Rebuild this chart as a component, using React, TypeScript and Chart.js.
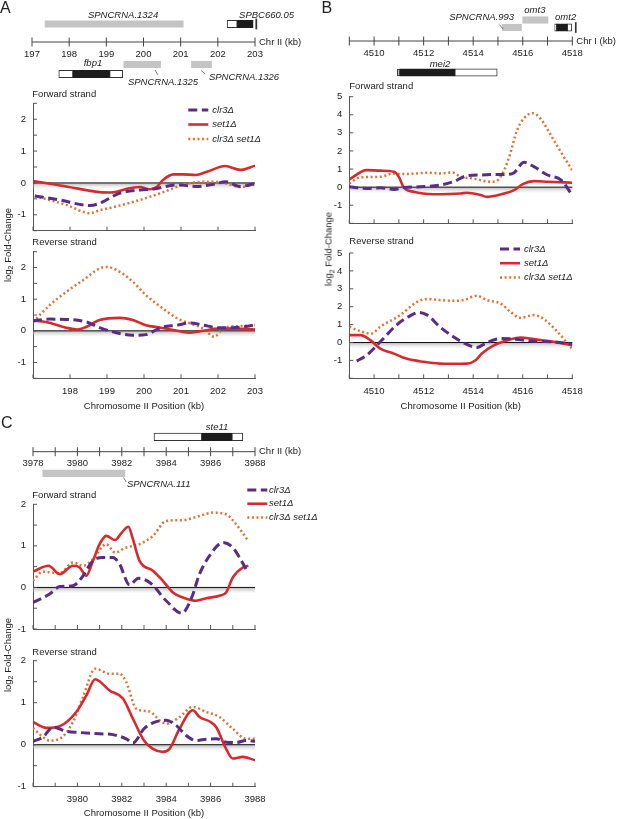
import React, { useEffect, useRef } from 'react';
import { Chart, registerables } from 'chart.js';
Chart.register(...registerables);

const FONT = '"Liberation Sans", Arial, Helvetica, sans-serif';
const TEXT = '#222222';
const AXIS = '#555555';

// ---------------- Series ----------------
const seriesNames = ['clr3\u0394', 'set1\u0394', 'clr3\u0394 set1\u0394'];

// Panel A – forward strand
const aFwdClr3X = [197.05, 197.7, 198.55, 198.8, 199.35, 199.9, 200.25, 200.9, 201.4, 201.9, 202.2, 202.6, 203.0];
const aFwdClr3Y = [-0.41, -0.53, -0.71, -0.64, -0.32, -0.22, -0.19, -0.06, -0.11, -0.04, 0.04, -0.11, -0.02];
const aFwdSet1X = [197.0, 197.9, 198.8, 199.1, 199.6, 199.9, 200.15, 200.35, 200.5, 200.8, 201.05, 201.4, 201.7, 202.2, 202.6, 203.0];
const aFwdSet1Y = [0.06, -0.11, -0.29, -0.3, -0.17, -0.13, -0.2, -0.12, 0.08, 0.27, 0.27, 0.25, 0.35, 0.53, 0.41, 0.54];
const aFwdDblX = [197.05, 197.9, 198.55, 198.8, 199.25, 199.9, 200.45, 201.05, 201.4, 201.9, 202.2, 202.6, 203.0];
const aFwdDblY = [-0.41, -0.69, -0.95, -0.86, -0.74, -0.53, -0.32, -0.06, 0.02, 0.04, -0.01, -0.13, -0.04];

// Panel A – reverse strand
const aRevClr3X = [197.0, 197.45, 197.9, 198.45, 198.8, 199.25, 199.7, 200.05, 200.45, 200.9, 201.25, 201.6, 202.0, 202.4, 203.0];
const aRevClr3Y = [0.32, 0.37, 0.36, 0.28, 0.1, -0.06, -0.14, -0.12, 0.1, 0.18, 0.25, 0.18, 0.1, 0.1, 0.18];
const aRevSet1X = [197.0, 197.35, 197.9, 198.2, 198.45, 198.8, 199.35, 199.7, 200.05, 200.45, 200.9, 201.25, 201.6, 202.0, 202.4, 203.0];
const aRevSet1Y = [0.32, 0.28, 0.1, 0.04, 0.13, 0.34, 0.41, 0.34, 0.18, 0.1, 0.0, -0.06, 0.0, 0.07, 0.07, 0.04];
const aRevDblX = [197.0, 197.45, 197.9, 198.35, 198.8, 199.0, 199.35, 199.7, 200.05, 200.45, 200.9, 201.25, 201.6, 201.9, 202.1, 202.3, 202.6, 203.0];
const aRevDblY = [0.28, 0.81, 1.23, 1.6, 1.97, 2.02, 1.86, 1.55, 1.13, 0.76, 0.39, 0.23, 0.07, -0.19, 0.02, 0.13, 0.15, 0.18];

// Panel B – forward strand
const bFwdClr3X = [4509.0, 4509.7, 4510.25, 4510.8, 4511.2, 4511.85, 4512.65, 4513.2, 4513.75, 4514.3, 4514.85, 4515.35, 4515.65, 4516.05, 4516.45, 4517.0, 4517.55, 4517.95];
const bFwdClr3Y = [0.02, -0.07, -0.04, -0.13, -0.02, 0.02, 0.11, 0.3, 0.63, 0.67, 0.7, 0.7, 0.8, 1.37, 1.13, 0.67, 0.39, -0.35];
const bFwdSet1X = [4509.0, 4509.7, 4510.25, 4510.8, 4511.0, 4511.2, 4511.6, 4512.4, 4513.5, 4513.75, 4514.3, 4514.55, 4515.1, 4515.65, 4516.0, 4516.45, 4517.0, 4518.0];
const bFwdSet1Y = [0.43, 0.94, 0.91, 0.85, 0.57, -0.02, -0.26, -0.39, -0.35, -0.31, -0.44, -0.54, -0.41, -0.17, 0.17, 0.33, 0.3, 0.24];
const bFwdDblX = [4509.0, 4509.45, 4510.25, 4510.8, 4511.05, 4511.6, 4512.15, 4512.65, 4513.15, 4513.5, 4514.0, 4514.7, 4514.95, 4515.25, 4515.5, 4515.75, 4516.05, 4516.4, 4516.7, 4517.25, 4517.65, 4518.0];
const bFwdDblY = [0.2, 0.54, 0.57, 0.76, 0.72, 0.74, 0.8, 0.76, 0.81, 0.57, 0.48, 0.3, 0.35, 0.94, 1.87, 3.07, 3.81, 4.09, 3.81, 2.6, 1.69, 0.94];

// Panel B – reverse strand
const bRevClr3X = [4509.3, 4509.7, 4510.25, 4510.9, 4511.45, 4511.8, 4512.15, 4512.65, 4513.2, 4513.75, 4514.15, 4514.55, 4515.1, 4515.65, 4516.45, 4517.25, 4518.0];
const bRevClr3Y = [-1.04, -0.71, 0.04, 0.97, 1.49, 1.68, 1.53, 0.88, 0.32, -0.11, -0.28, 0.0, 0.22, 0.19, 0.07, 0.04, -0.09];
const bRevSet1X = [4509.0, 4509.45, 4509.85, 4510.25, 4510.8, 4511.3, 4512.0, 4512.65, 4513.2, 4513.75, 4514.1, 4514.35, 4514.85, 4515.4, 4515.9, 4516.45, 4517.25, 4518.0];
const bRevSet1Y = [0.41, 0.41, 0.13, -0.34, -0.62, -0.9, -1.08, -1.18, -1.19, -1.18, -0.99, -0.62, -0.15, 0.13, 0.28, 0.19, 0.04, -0.15];
const bRevDblX = [4509.0, 4509.45, 4509.9, 4510.25, 4511.05, 4511.75, 4512.15, 4512.65, 4513.2, 4513.6, 4514.15, 4514.55, 4515.1, 4515.5, 4515.9, 4516.45, 4516.85, 4517.4, 4518.0];
const bRevDblY = [0.88, 0.63, 0.5, 0.88, 1.53, 2.28, 2.43, 2.37, 2.33, 2.37, 2.61, 2.37, 2.18, 1.72, 1.38, 1.53, 1.31, 0.6, -0.37];

// Panel C – forward strand
const cFwdClr3X = [3978.0, 3978.75, 3979.2, 3979.8, 3980.2, 3980.7, 3981.15, 3981.6, 3981.9, 3982.35, 3982.75, 3983.3, 3984.0, 3984.7, 3985.15, 3985.5, 3986.0, 3986.55, 3987.0, 3987.3, 3987.6];
const cFwdClr3Y = [-0.36, -0.16, 0.02, 0.04, 0.24, 0.64, 0.72, 0.72, 0.56, 0.06, 0.22, 0.1, -0.32, -0.62, -0.24, 0.32, 0.8, 1.08, 0.96, 0.72, 0.44];
const cFwdSet1X = [3978.0, 3978.7, 3979.2, 3979.8, 3980.1, 3980.4, 3980.7, 3981.0, 3981.3, 3981.7, 3982.0, 3982.3, 3982.5, 3982.8, 3983.4, 3983.85, 3984.3, 3984.75, 3985.35, 3985.8, 3986.4, 3986.7, 3987.0, 3987.45, 3987.7];
const cFwdSet1Y = [0.38, 0.52, 0.32, 0.52, 0.48, 0.28, 0.64, 1.04, 1.24, 1.14, 1.32, 1.46, 1.16, 0.64, 0.4, 0.16, -0.12, -0.24, -0.32, -0.26, -0.2, -0.12, 0.24, 0.48, 0.52];
const cFwdDblX = [3978.0, 3978.45, 3979.2, 3979.8, 3980.25, 3980.7, 3981.3, 3981.7, 3982.2, 3982.8, 3983.4, 3984.0, 3984.75, 3985.5, 3986.1, 3986.7, 3987.15, 3987.7];
const cFwdDblY = [0.16, 0.38, 0.34, 0.6, 0.52, 0.68, 1.04, 0.84, 0.96, 1.04, 1.24, 1.6, 1.62, 1.72, 1.8, 1.76, 1.52, 1.12];

// Panel C – reverse strand
const cRevClr3X = [3978.0, 3978.45, 3978.9, 3979.5, 3980.1, 3981.0, 3981.6, 3982.2, 3982.5, 3983.0, 3983.4, 3984.0, 3984.45, 3984.9, 3985.35, 3985.8, 3986.25, 3986.7, 3987.15, 3987.6, 3988.0];
const cRevClr3Y = [0.08, 0.18, 0.42, 0.32, 0.29, 0.26, 0.24, 0.14, 0.04, 0.38, 0.52, 0.58, 0.46, 0.22, 0.1, 0.13, 0.14, 0.06, 0.05, 0.1, 0.08];
const cRevSet1X = [3978.0, 3978.6, 3979.2, 3979.95, 3980.4, 3980.8, 3981.0, 3981.45, 3982.05, 3982.5, 3983.0, 3983.4, 3983.85, 3984.15, 3984.6, 3985.2, 3985.5, 3986.0, 3986.25, 3986.7, 3987.0, 3987.45, 3988.0];
const cRevSet1Y = [0.54, 0.4, 0.44, 0.78, 1.17, 1.56, 1.51, 1.29, 1.1, 0.62, 0.1, -0.1, -0.17, -0.1, 0.38, 0.82, 0.66, 0.54, 0.42, -0.1, -0.33, -0.29, -0.37];
const cRevDblX = [3978.0, 3978.45, 3978.75, 3979.2, 3979.8, 3980.25, 3980.8, 3981.45, 3981.9, 3982.2, 3982.65, 3983.25, 3983.7, 3984.0, 3984.6, 3985.2, 3985.8, 3986.4, 3987.0, 3987.6, 3988.0];
const cRevDblY = [0.4, 0.18, 0.1, 0.14, 0.54, 1.13, 1.81, 1.69, 1.69, 1.49, 0.86, 0.79, 0.58, 0.5, 0.66, 0.9, 0.78, 0.66, 0.38, 0.14, 0.14];

// ---------------- Axis ticks ----------------
const aYLabels = [-1, 0, 1, 2];
const bYLabels = [-1, 0, 1, 2, 3, 4, 5];
const cYLabels = [-1, 0, 1, 2];
const aXLabels = [198, 199, 200, 201, 202, 203];
const bXLabels = [4510, 4512, 4514, 4516, 4518];
const cXLabels = [3980, 3982, 3984, 3986, 3988];
const xTitle = 'Chromosome II Position (kb)';

// ---------------- Gene tracks ----------------
const aTrackTicks = [197, 198, 199, 200, 201, 202, 203];
const aTrackLabels = [197, 198, 199, 200, 201, 202, 203];
const aFeatStart = [197.35, 202.25, 202.52, 203.02, 197.72, 198.1, 199.09, 199.47, 201.29];
const aFeatEnd = [201.07, 202.52, 202.95, 203.05, 198.1, 199.09, 199.44, 200.46, 201.83];
const aFeatKind = ['nc', 'utr', 'cds', 'end', 'utr', 'cds', 'utr', 'nc', 'nc'];
const aFeatRow = ['up', 'up', 'up', 'up', 'low2', 'low2', 'low2', 'low1', 'low1'];
const aGeneNames = ['SPNCRNA.1324', 'SPBC660.05', 'fbp1', 'SPNCRNA.1325', 'SPNCRNA.1326'];
const aGeneLabelAt = [199.45, 203.31, 198.64, 199.58, 201.76];

const bTrackTicks = [4509, 4510, 4511, 4512, 4513, 4514, 4515, 4516, 4517, 4518];
const bTrackLabels = [4510, 4512, 4514, 4516, 4518];
const bFeatStart = [4515.17, 4516.0, 4517.29, 4517.37, 4517.8, 4518.12, 4510.94, 4511.04, 4513.26];
const bFeatEnd = [4515.95, 4517.02, 4517.37, 4517.8, 4517.98, 4518.16, 4511.04, 4513.26, 4514.97];
const bFeatKind = ['nc', 'nc', 'utr', 'cds', 'utr', 'end', 'gutr', 'cds', 'utr'];
const bFeatRow = ['mid', 'up', 'mid', 'mid', 'mid', 'mid', 'low', 'low', 'low'];
const bGeneNames = ['SPNCRNA.993', 'omt3', 'omt2', 'mei2'];
const bGeneLabelAt = [4515.65, 4516.49, 4517.73, 4512.66];

const cTrackTicks = [3978, 3979, 3980, 3981, 3982, 3983, 3984, 3985, 3986, 3987, 3988];
const cTrackLabels = [3978, 3980, 3982, 3984, 3986, 3988];
const cFeatStart = [3983.45, 3985.6, 3986.96, 3978.44];
const cFeatEnd = [3985.6, 3986.96, 3987.45, 3982.14];
const cFeatKind = ['utr', 'cds', 'utr', 'nc'];
const cFeatRow = ['up', 'up', 'up', 'low'];
const cGeneNames = ['ste11', 'SPNCRNA.111'];
const cGeneLabelAt = [3986.29, 3982.23];

// ---------------- Styles ----------------
const seriesStyles = [
  { color: '#5a2c84', width: 3, dash: [9, 4.5] },
  { color: '#d82a2c', width: 2.6, dash: [] as number[] },
  { color: '#dd7432', width: 2.5, dash: [2, 2.6] },
];

const KIND_STYLE: Record<string, { bg: string; border: string; bw: number; th: number }> = {
  nc: { bg: '#c4c4c4', border: '#c4c4c4', bw: 0, th: 6.5 },
  gutr: { bg: '#bdbdbd', border: '#333333', bw: 1, th: 7 },
  utr: { bg: '#ffffff', border: '#333333', bw: 1, th: 7.5 },
  cds: { bg: '#1c1c1c', border: '#1c1c1c', bw: 1, th: 7.5 },
  end: { bg: '#333333', border: '#333333', bw: 0, th: 10 },
};

function font(size: number, style = 'normal') {
  return `${style} ${size}px ${FONT}`;
}

// ---------------- Plot charts ----------------
const plotDeco = (cfg: any) => ({
  id: 'plotDeco',
  beforeDatasetsDraw(chart: any) {
    const { ctx, chartArea: ca } = chart;
    const xs = chart.scales.x;
    const ys = chart.scales.y;
    const y0 = ys.getPixelForValue(0);
    ctx.save();
    const g = ctx.createLinearGradient(0, y0, 0, y0 + 6);
    g.addColorStop(0, 'rgba(150,150,150,0.7)');
    g.addColorStop(1, 'rgba(210,210,210,0)');
    ctx.fillStyle = g;
    ctx.fillRect(ca.left, y0, ca.right - ca.left, 6);
    ctx.strokeStyle = '#111';
    ctx.lineWidth = 1;
    ctx.beginPath();
    ctx.moveTo(ca.left, y0);
    ctx.lineTo(ca.right, y0);
    ctx.stroke();
    ctx.strokeStyle = AXIS;
    ctx.beginPath();
    for (const t of ys.ticks) {
      const py = ys.getPixelForValue(t.value);
      ctx.moveTo(ca.left, py);
      ctx.lineTo(ca.left + 4, py);
    }
    for (const t of xs.ticks) {
      const px = xs.getPixelForValue(t.value);
      ctx.moveTo(px, ca.bottom);
      ctx.lineTo(px, ca.bottom - 4);
    }
    ctx.stroke();
    ctx.restore();
  },
  afterDraw(chart: any) {
    const { ctx } = chart;
    const [cl, ct] = cfg.canvas;
    ctx.save();
    ctx.fillStyle = TEXT;
    ctx.font = font(9.5);
    ctx.textAlign = 'left';
    ctx.textBaseline = 'middle';
    ctx.fillText(cfg.strand, cfg.strandPos[0] - cl, cfg.strandPos[1] - ct);
    if (cfg.legend) {
      const [lx, ly, tx, gap] = cfg.legend;
      chart.data.datasets.forEach((ds: any, i: number) => {
        const y = ly + i * gap - ct;
        ctx.strokeStyle = ds.borderColor;
        ctx.lineWidth = ds.borderWidth;
        ctx.setLineDash(ds.borderDash || []);
        ctx.beginPath();
        ctx.moveTo(lx - cl, y);
        ctx.lineTo(lx - cl + 20, y);
        ctx.stroke();
        ctx.setLineDash([]);
        ctx.fillStyle = TEXT;
        ctx.font = font(9.5, 'italic');
        ctx.fillText(ds.label, tx - cl, y);
      });
    }
    ctx.restore();
  },
});

function PlotChart({ cfg }: { cfg: any }) {
  const ref = useRef<HTMLCanvasElement>(null);
  const [cl, ct, cw, chh] = cfg.canvas;
  useEffect(() => {
    const [al, at, ar, ab] = cfg.area;
    const yw = al - cl;
    const padTop = at - ct;
    const padRight = cl + cw - ar;
    const xh = ct + chh - ab;
    const chart = new Chart(ref.current as HTMLCanvasElement, {
      type: 'line',
      data: {
        datasets: cfg.series.map((s: any, i: number) => ({
          label: seriesNames[i],
          data: s[0].map((x: number, j: number) => ({ x, y: s[1][j] })),
          borderColor: seriesStyles[i].color,
          borderWidth: seriesStyles[i].width,
          borderDash: seriesStyles[i].dash,
          pointRadius: 0,
          tension: 0.4,
          cubicInterpolationMode: 'monotone',
          fill: false,
        })),
      },
      options: {
        animation: false,
        responsive: false,
        events: [],
        layout: { padding: { left: 0, top: padTop, right: padRight, bottom: 0 }, autoPadding: false },
        plugins: { legend: { display: false }, tooltip: { enabled: false }, title: { display: false } },
        scales: {
          x: {
            type: 'linear',
            min: cfg.xMin,
            max: cfg.xMax,
            grid: { display: false, drawTicks: false, tickLength: 0 },
            border: { display: true, color: AXIS, width: 1 },
            ticks: {
              display: !!cfg.xLabels,
              stepSize: 1,
              autoSkip: false,
              maxRotation: 0,
              padding: 7,
              color: TEXT,
              font: { family: FONT, size: 9.5 },
              callback: (v: any) => (cfg.xLabels && cfg.xLabels.includes(Number(v)) ? String(v) : ''),
            },
            title: cfg.xLabels
              ? { display: true, text: xTitle, color: TEXT, font: { family: FONT, size: 9.5 }, padding: { top: 0, bottom: cfg.titlePad } }
              : { display: false },
            afterFit: (s: any) => {
              s.height = xh;
            },
          },
          y: {
            type: 'linear',
            min: cfg.yMin,
            max: cfg.yMax,
            grid: { display: false, drawTicks: false, tickLength: 0 },
            border: { display: true, color: AXIS, width: 1 },
            ticks: {
              stepSize: cfg.yStep,
              autoSkip: false,
              padding: 7,
              color: TEXT,
              font: { family: FONT, size: 9.5 },
              callback: (v: any) => (cfg.yLabels.includes(Number(v)) ? String(v) : ''),
            },
            afterFit: (s: any) => {
              s.width = yw;
            },
          },
        },
      } as any,
      plugins: [plotDeco(cfg)],
    });
    return () => chart.destroy();
  }, []);
  return (
    <canvas
      ref={ref}
      width={cw}
      height={chh}
      style={{ position: 'absolute', left: cl, top: ct, width: cw, height: chh }}
    />
  );
}

// ---------------- Gene track charts ----------------
const trackDeco = (cfg: any) => ({
  id: 'trackDeco',
  afterDatasetsDraw(chart: any) {
    const { ctx } = chart;
    const xs = chart.scales.x;
    const ys = chart.scales.y;
    const ay = ys.getPixelForValue(cfg.axisY);
    const x0 = xs.getPixelForValue(cfg.min);
    const x1 = xs.getPixelForValue(cfg.max);
    ctx.save();
    ctx.strokeStyle = '#444';
    ctx.lineWidth = 1;
    ctx.beginPath();
    ctx.moveTo(x0, ay);
    ctx.lineTo(x1, ay);
    for (const t of cfg.ticks) {
      const px = xs.getPixelForValue(t);
      ctx.moveTo(px, ay - 4.5);
      ctx.lineTo(px, ay + 4.5);
    }
    ctx.stroke();
    ctx.fillStyle = TEXT;
    ctx.font = font(9.5);
    ctx.textBaseline = 'middle';
    ctx.textAlign = 'center';
    for (const t of cfg.tickLabels) {
      ctx.fillText(String(t), xs.getPixelForValue(t), ay + 12);
    }
    ctx.textAlign = 'left';
    ctx.fillText(cfg.chrLabel, x1 + 4, ay);
    ctx.font = font(9.5, 'italic');
    cfg.names.forEach((n: string, i: number) => {
      ctx.textAlign = cfg.nameAlign[i];
      ctx.fillText(n, xs.getPixelForValue(cfg.nameAt[i]), ys.getPixelForValue(cfg.nameY[i]));
    });
    ctx.strokeStyle = '#555';
    ctx.lineWidth = 0.8;
    ctx.beginPath();
    for (const [k1, y1, k2, y2] of cfg.leaders) {
      ctx.moveTo(xs.getPixelForValue(k1), ys.getPixelForValue(y1));
      ctx.lineTo(xs.getPixelForValue(k2), ys.getPixelForValue(y2));
    }
    ctx.stroke();
    ctx.restore();
  },
});

function TrackChart({ cfg }: { cfg: any }) {
  const ref = useRef<HTMLCanvasElement>(null);
  const [cl, ct, cw, chh] = cfg.canvas;
  useEffect(() => {
    const datasets = Object.keys(KIND_STYLE)
      .map((k) => {
        const st = KIND_STYLE[k];
        const idx = cfg.kind.map((kk: string, i: number) => (kk === k ? i : -1)).filter((i: number) => i >= 0);
        return {
          label: k,
          data: idx.map((i: number) => ({ x: [cfg.start[i], cfg.end[i]], y: cfg.rowY[cfg.row[i]] })),
          backgroundColor: st.bg,
          borderColor: st.border,
          borderWidth: st.bw,
          barThickness: st.th,
          grouped: false,
          borderSkipped: false,
          clip: false,
        };
      })
      .filter((d) => d.data.length > 0);
    const chart = new Chart(ref.current as HTMLCanvasElement, {
      type: 'bar',
      data: { datasets },
      options: {
        indexAxis: 'y',
        animation: false,
        responsive: false,
        events: [],
        layout: { padding: { left: cfg.xLeft - cl, right: cl + cw - cfg.xRight, top: 0, bottom: 0 }, autoPadding: false },
        plugins: { legend: { display: false }, tooltip: { enabled: false } },
        scales: {
          x: { type: 'linear', min: cfg.min, max: cfg.max, display: false, beginAtZero: false },
          y: { type: 'linear', min: 0, max: chh, reverse: true, display: false, offset: false },
        },
      } as any,
      plugins: [trackDeco(cfg)],
    });
    return () => chart.destroy();
  }, []);
  return (
    <canvas
      ref={ref}
      width={cw}
      height={chh}
      style={{ position: 'absolute', left: cl, top: ct, width: cw, height: chh }}
    />
  );
}

// ---------------- Layout ----------------
const tracks = [
  {
    key: 'tA',
    canvas: [0, 0, 320, 90],
    xLeft: 32,
    xRight: 255,
    min: 197,
    max: 203,
    axisY: 42,
    ticks: aTrackTicks,
    tickLabels: aTrackLabels,
    chrLabel: 'Chr II (kb)',
    start: aFeatStart,
    end: aFeatEnd,
    kind: aFeatKind,
    row: aFeatRow,
    rowY: { up: 24, low1: 64.5, low2: 74 },
    names: aGeneNames,
    nameAt: aGeneLabelAt,
    nameY: [15, 15, 63.5, 82, 77],
    nameAlign: ['center', 'center', 'center', 'left', 'left'],
    leaders: [
      [200.31, 70, 200.39, 75],
      [201.55, 70.5, 201.66, 74],
    ],
  },
  {
    key: 'tB',
    canvas: [300, 0, 317, 90],
    xLeft: 349.3,
    xRight: 572.3,
    min: 4509,
    max: 4518,
    axisY: 41,
    ticks: bTrackTicks,
    tickLabels: bTrackLabels,
    chrLabel: 'Chr I (kb)',
    start: bFeatStart,
    end: bFeatEnd,
    kind: bFeatKind,
    row: bFeatRow,
    rowY: { up: 20, mid: 27.5, low: 72.5 },
    names: bGeneNames,
    nameAt: bGeneLabelAt,
    nameY: [17.5, 10.5, 17.5, 64],
    nameAlign: ['right', 'center', 'center', 'center'],
    leaders: [[4515.05, 24.5, 4515.21, 29]],
  },
  {
    key: 'tC',
    canvas: [0, 410, 320, 80],
    xLeft: 33,
    xRight: 255,
    min: 3978,
    max: 3988,
    axisY: 41.7,
    ticks: cTrackTicks,
    tickLabels: cTrackLabels,
    chrLabel: 'Chr II (kb)',
    start: cFeatStart,
    end: cFeatEnd,
    kind: cFeatKind,
    row: cFeatRow,
    rowY: { up: 26.8, low: 63.3 },
    names: cGeneNames,
    nameAt: cGeneLabelAt,
    nameY: [17, 74],
    nameAlign: ['center', 'left'],
    leaders: [[3982.08, 67.5, 3982.2, 72]],
  },
];

const plots = [
  {
    key: 'aF', canvas: [0, 85, 300, 161], area: [33, 103.3, 255, 230.7],
    xMin: 197, xMax: 203, yMin: -1.5, yMax: 2.5, yStep: 0.5, yLabels: aYLabels, xLabels: null, titlePad: 0,
    strand: 'Forward strand', strandPos: [32.3, 94.7], legend: [188.3, 110, 212.3, 14.5],
    series: [[aFwdClr3X, aFwdClr3Y], [aFwdSet1X, aFwdSet1Y], [aFwdDblX, aFwdDblY]],
  },
  {
    key: 'aR', canvas: [0, 236, 300, 179], area: [33, 251.7, 255, 378.3],
    xMin: 197, xMax: 203, yMin: -1.5, yMax: 2.5, yStep: 0.5, yLabels: aYLabels, xLabels: aXLabels, titlePad: 3.3,
    strand: 'Reverse strand', strandPos: [32.3, 242.5], legend: null,
    series: [[aRevClr3X, aRevClr3Y], [aRevSet1X, aRevSet1Y], [aRevDblX, aRevDblY]],
  },
  {
    key: 'bF', canvas: [300, 78, 317, 161], area: [349.3, 96.7, 572.3, 223.3],
    xMin: 4509, xMax: 4518, yMin: -2, yMax: 5, yStep: 1, yLabels: bYLabels, xLabels: null, titlePad: 0,
    strand: 'Forward strand', strandPos: [349.3, 86.7], legend: null,
    series: [[bFwdClr3X, bFwdClr3Y], [bFwdSet1X, bFwdSet1Y], [bFwdDblX, bFwdDblY]],
  },
  {
    key: 'bR', canvas: [300, 230, 317, 185], area: [349.3, 253, 572.3, 378.3],
    xMin: 4509, xMax: 4518, yMin: -2, yMax: 5, yStep: 1, yLabels: bYLabels, xLabels: bXLabels, titlePad: 3.3,
    strand: 'Reverse strand', strandPos: [349.3, 241.3], legend: [500, 249, 524, 14.2],
    series: [[bRevClr3X, bRevClr3Y], [bRevSet1X, bRevSet1Y], [bRevDblX, bRevDblY]],
  },
  {
    key: 'cF', canvas: [0, 484, 320, 160], area: [33, 504.3, 255, 629],
    xMin: 3978, xMax: 3988, yMin: -1, yMax: 2, yStep: 0.5, yLabels: cYLabels, xLabels: null, titlePad: 0,
    strand: 'Forward strand', strandPos: [32.3, 495], legend: [247.3, 490, 269, 13.7],
    series: [[cFwdClr3X, cFwdClr3Y], [cFwdSet1X, cFwdSet1Y], [cFwdDblX, cFwdDblY]],
  },
  {
    key: 'cR', canvas: [0, 640, 320, 179], area: [33, 660.7, 255, 786.7],
    xMin: 3978, xMax: 3988, yMin: -1, yMax: 2, yStep: 0.5, yLabels: cYLabels, xLabels: cXLabels, titlePad: 0.3,
    strand: 'Reverse strand', strandPos: [32.3, 652.8], legend: null,
    series: [[cRevClr3X, cRevClr3Y], [cRevSet1X, cRevSet1Y], [cRevDblX, cRevDblY]],
  },
];

const panelLetters = [
  { t: 'A', x: 0, y: -0.5 },
  { t: 'B', x: 321.5, y: -0.5 },
  { t: 'C', x: 1, y: 414.5 },
];

const yTitles = [
  { x: 7, y: 245 },
  { x: 327.5, y: 249 },
  { x: 7, y: 655 },
];

export default function App() {
  useEffect(() => {
    document.documentElement.style.overflow = 'hidden';
    document.body.style.overflow = 'hidden';
  }, []);
  return (
    <div
      style={{
        position: 'absolute',
        left: 0,
        top: 0,
        width: 617,
        height: 819,
        background: '#ffffff',
        overflow: 'hidden',
        fontFamily: FONT,
        color: TEXT,
      }}
    >
      {tracks.map((t) => (
        <TrackChart key={t.key} cfg={t} />
      ))}
      {plots.map((p) => (
        <PlotChart key={p.key} cfg={p} />
      ))}
      {panelLetters.map((p) => (
        <div
          key={p.t}
          style={{ position: 'absolute', left: p.x, top: p.y, fontSize: 16, lineHeight: '16px', fontFamily: FONT }}
        >
          {p.t}
        </div>
      ))}
      {yTitles.map((p, i) => (
        <div
          key={i}
          style={{
            position: 'absolute',
            left: p.x,
            top: p.y,
            transform: 'translate(-50%, -50%) rotate(-90deg)',
            whiteSpace: 'nowrap',
            fontSize: 9.5,
            lineHeight: '11px',
            fontFamily: FONT,
          }}
        >
          log<sub style={{ fontSize: 7, verticalAlign: 'sub', lineHeight: 0 }}>2</sub> Fold-Change
        </div>
      ))}
    </div>
  );
}
